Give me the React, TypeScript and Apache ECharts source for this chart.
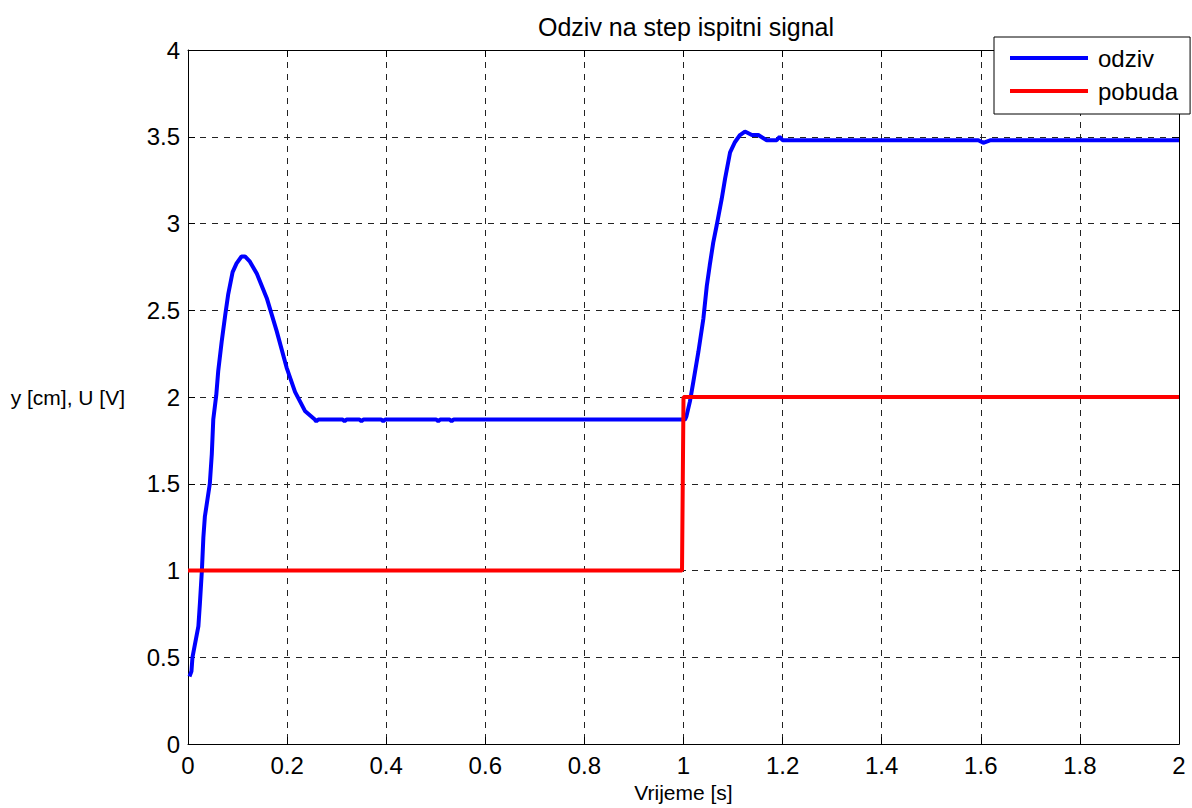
import React, { useEffect, useRef } from "react";
import * as echarts from "echarts";

const titleText = "Odziv na step ispitni signal";
const xName = "Vrijeme [s]";
const yName = "y [cm], U [V]";
const seriesNames = ["odziv", "pobuda"];

const odzivT = [
  0.003, 0.007, 0.009, 0.021, 0.024, 0.028, 0.031, 0.034, 0.044, 0.048, 0.051,
  0.057, 0.061, 0.068, 0.075, 0.081, 0.09, 0.098, 0.108, 0.115, 0.125, 0.139,
  0.159, 0.179, 0.199, 0.216, 0.236, 0.256, 0.259, 0.263, 0.312, 0.316, 0.32,
  0.346, 0.35, 0.354, 0.39, 0.394, 0.398, 0.501, 0.505, 0.509, 0.528, 0.532,
  0.536, 1.003, 1.006, 1.013, 1.02, 1.03, 1.04, 1.047, 1.053, 1.06, 1.067,
  1.077, 1.084, 1.094, 1.104, 1.114, 1.124, 1.138, 1.151, 1.168, 1.188, 1.194,
  1.2, 1.595, 1.605, 1.62, 2.0,
];
const odzivY = [
  0.39, 0.42, 0.5, 0.68, 0.81, 1.0, 1.19, 1.31, 1.5, 1.67, 1.87, 2.01, 2.15,
  2.32, 2.47, 2.59, 2.72, 2.77, 2.81, 2.81, 2.78, 2.71, 2.57, 2.38, 2.17, 2.03,
  1.92, 1.87, 1.86, 1.87, 1.87, 1.86, 1.87, 1.87, 1.86, 1.87, 1.87, 1.86, 1.87,
  1.87, 1.86, 1.87, 1.87, 1.86, 1.87, 1.87, 1.89, 1.975, 2.09, 2.26, 2.45,
  2.64, 2.76, 2.89, 2.99, 3.14, 3.26, 3.41, 3.47, 3.51, 3.53, 3.51, 3.51, 3.48,
  3.48, 3.5, 3.48, 3.48, 3.465, 3.48, 3.48,
];

const pobudaT = [0, 0.997, 1.0, 2.0];
const pobudaY = [1, 1, 2, 2];

const xMin = 0, xMax = 2, xStep = 0.2;
const yMin = 0, yMax = 4, yStep = 0.5;

const FONT = "'Liberation Sans', Arial, Helvetica, sans-serif";

export default function App() {
  const ref = useRef<HTMLDivElement>(null);
  useEffect(() => {
    if (!ref.current) return;
    const chart = echarts.init(ref.current, undefined, { renderer: "svg" });
    const odziv = odzivT.map((t, i) => [t, odzivY[i]]);
    const pobuda = pobudaT.map((t, i) => [t, pobudaY[i]]);
    const fmt = (v: number) => String(Math.round(v * 10) / 10);
    const grid = {
      left: 188,
      top: 50,
      right: 13,
      bottom: 60,
    };
    const split = {
      show: true,
      lineStyle: { color: "#222", width: 1, type: [6, 6] as any },
    };
    const axLine = { show: true, onZero: false, lineStyle: { color: "#000", width: 1 } };
    const tick = { show: true, inside: true, length: 7, lineStyle: { color: "#000" } };
    chart.setOption({
      animation: false,
      backgroundColor: "#fff",
      textStyle: { fontFamily: FONT },
      title: {
        text: titleText,
        left: 681,
        top: 9,
        textAlign: "center",
        textStyle: { fontFamily: FONT, fontSize: 25, fontWeight: "normal", color: "#000" },
      },
      legend: {
        data: seriesNames,
        orient: "vertical",
        left: 994,
        top: 37,
        padding: [9, 12, 11, 16],
        itemGap: 9,
        itemWidth: 78,
        itemHeight: 4,
        icon: "rect",
        backgroundColor: "#fff",
        borderColor: "#000",
        borderWidth: 1,
        borderRadius: 0,
        z: 10,
        textStyle: { fontFamily: FONT, fontSize: 24, color: "#000", padding: [0, 0, 0, 5] },
      },
      grid,
      xAxis: [
        {
          type: "value",
          min: xMin,
          max: xMax,
          interval: xStep,
          name: xName,
          nameLocation: "middle",
          nameGap: 29,
          nameTextStyle: { fontFamily: FONT, fontSize: 21, color: "#000" },
          axisLine: axLine,
          axisTick: tick,
          axisLabel: { fontFamily: FONT, fontSize: 24, color: "#000", margin: 9, formatter: fmt },
          splitLine: split,
        },
        {
          type: "value",
          position: "top",
          min: xMin,
          max: xMax,
          interval: xStep,
          axisLine: axLine,
          axisTick: tick,
          axisLabel: { show: false },
          splitLine: { show: false },
        },
      ],
      yAxis: [
        {
          type: "value",
          min: yMin,
          max: yMax,
          interval: yStep,
          name: yName,
          nameLocation: "middle",
          nameRotate: 0,
          nameGap: 63,
          nameTextStyle: { fontFamily: FONT, fontSize: 21, color: "#000" },
          axisLine: axLine,
          axisTick: tick,
          axisLabel: { fontFamily: FONT, fontSize: 24, color: "#000", margin: 8, formatter: fmt },
          splitLine: split,
        },
        {
          type: "value",
          position: "right",
          min: yMin,
          max: yMax,
          interval: yStep,
          axisLine: axLine,
          axisTick: tick,
          axisLabel: { show: false },
          splitLine: { show: false },
        },
      ],
      series: [
        {
          name: seriesNames[0],
          type: "line",
          data: odziv,
          showSymbol: false,
          symbol: "none",
          lineStyle: { color: "#0000ff", width: 4 },
          itemStyle: { color: "#0000ff" },
          z: 3,
        },
        {
          name: seriesNames[1],
          type: "line",
          data: pobuda,
          showSymbol: false,
          symbol: "none",
          lineStyle: { color: "#ff0000", width: 4 },
          itemStyle: { color: "#ff0000" },
          z: 4,
        },
      ],
    });
    return () => chart.dispose();
  }, []);
  return (
    <div
      ref={ref}
      style={{ position: "fixed", left: 0, top: 0, width: 1192, height: 808, background: "#fff" }}
    />
  );
}
